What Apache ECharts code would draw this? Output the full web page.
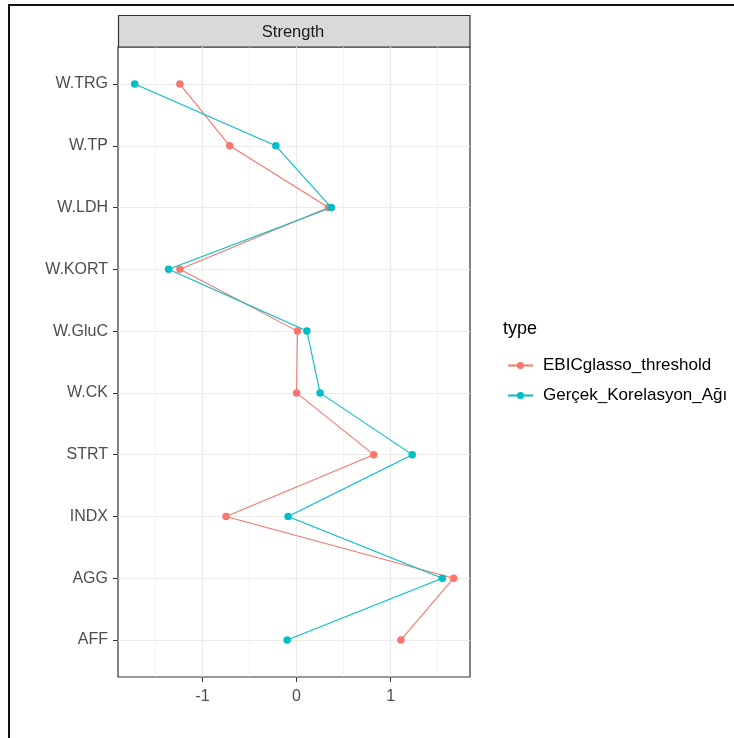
<!DOCTYPE html>
<html>
<head>
<meta charset="utf-8">
<script src="https://cdn.jsdelivr.net/npm/echarts@6/dist/echarts.min.js"></script>
<style>
  html, body { margin: 0; padding: 0; background: #fff; }
  #main { width: 734px; height: 738px; }
</style>
</head>
<body>
<div id="main"></div>
<script>
// kategoriler (alttan üste)
var categories = ['AFF', 'AGG', 'INDX', 'STRT', 'W.CK', 'W.GluC', 'W.KORT', 'W.LDH', 'W.TP', 'W.TRG'];
var ebicValues = [1.11, 1.67, -0.75, 0.82, 0.00, 0.01, -1.24, 0.34, -0.71, -1.24];
var gercekValues = [-0.10, 1.55, -0.09, 1.23, 0.25, 0.11, -1.36, 0.37, -0.22, -1.72];
var xTicks = [-1, 0, 1];
var xMinorTicks = [-1.5, -0.5, 0.5, 1.5];
var seriesNames = ['EBICglasso_threshold', 'Gerçek_Korelasyon_Ağı'];

var font = 'Liberation Sans, Arial, sans-serif';
var catIdx = categories.map(function (c, i) { return i; });

function toPoints(vals) {
    return vals.map(function (v, i) { return [v, i]; });
}

var myChart = echarts.init(document.getElementById('main'));

myChart.setOption({
    backgroundColor: '#fff',
    animation: false,
    title: {
        text: 'type',
        left: 498,
        top: 315,
        textStyle: { fontFamily: font, fontSize: 18, fontWeight: 'normal', color: '#000' }
    },
    legend: {
        orient: 'vertical',
        left: 502,
        top: 352,
        itemWidth: 25,
        itemHeight: 9,
        itemGap: 13,
        data: seriesNames,
        textStyle: { fontFamily: font, fontSize: 17, color: '#000', padding: [0, 0, 0, 5] }
    },
    grid: {
        left: 118,
        right: 264,
        top: 47,
        bottom: 61,
        show: true,
        backgroundColor: '#fff',
        borderColor: '#333',
        borderWidth: 1.2
    },
    xAxis: [{
        type: 'value',
        min: -1.898,
        max: 1.844,
        axisLine: { show: false, onZero: false },
        axisTick: { show: true, length: 5, customValues: xTicks, lineStyle: { color: '#333' } },
        axisLabel: {
            customValues: xTicks,
            margin: 12,
            fontFamily: font, fontSize: 16, color: '#4D4D4D'
        },
        splitLine: { show: true, lineStyle: { color: '#EBEBEB', width: 1.1 } }
    }, {
        type: 'value',
        position: 'top',
        min: -1.898,
        max: 1.844,
        axisLine: { show: false, onZero: false },
        axisTick: { show: false, customValues: xMinorTicks },
        axisLabel: { show: false, customValues: xMinorTicks },
        splitLine: { show: true, lineStyle: { color: '#EBEBEB', width: 0.6 } }
    }],
    yAxis: {
        type: 'value',
        min: -0.6,
        max: 9.6,
        axisLine: { show: false, onZero: false },
        axisTick: { show: true, length: 5, customValues: catIdx, lineStyle: { color: '#333' } },
        axisLabel: {
            customValues: catIdx,
            margin: 10,
            fontFamily: font, fontSize: 16, color: '#4D4D4D',
            formatter: function (v) { return categories[Math.round(v)]; }
        },
        splitLine: { show: true, lineStyle: { color: '#EBEBEB', width: 1.1 } }
    },
    graphic: [
        {
            type: 'rect',
            shape: { x: 118.5, y: 15.5, width: 351.5, height: 31.5 },
            style: { fill: '#D9D9D9', stroke: '#333', lineWidth: 1.2 }
        },
        {
            type: 'text',
            x: 293, y: 32,
            style: {
                text: 'Strength', fill: '#1A1A1A', font: '16.5px ' + font,
                textAlign: 'center', textVerticalAlign: 'middle'
            }
        },
        {
            type: 'polyline',
            shape: { points: [[9, 738], [9, 5], [734, 5]] },
            style: { stroke: '#111', lineWidth: 2, fill: null }
        }
    ],
    series: [{
        name: seriesNames[0],
        type: 'line',
        xAxisIndex: 0,
        data: toPoints(ebicValues),
        color: '#F8766D',
        symbol: 'circle',
        symbolSize: 7.5,
        lineStyle: { width: 1.1 },
        z: 3
    }, {
        name: seriesNames[1],
        type: 'line',
        xAxisIndex: 0,
        data: toPoints(gercekValues),
        color: '#00BFC4',
        symbol: 'circle',
        symbolSize: 7.5,
        lineStyle: { width: 1.1 },
        z: 4
    }]
});
</script>
</body>
</html>
